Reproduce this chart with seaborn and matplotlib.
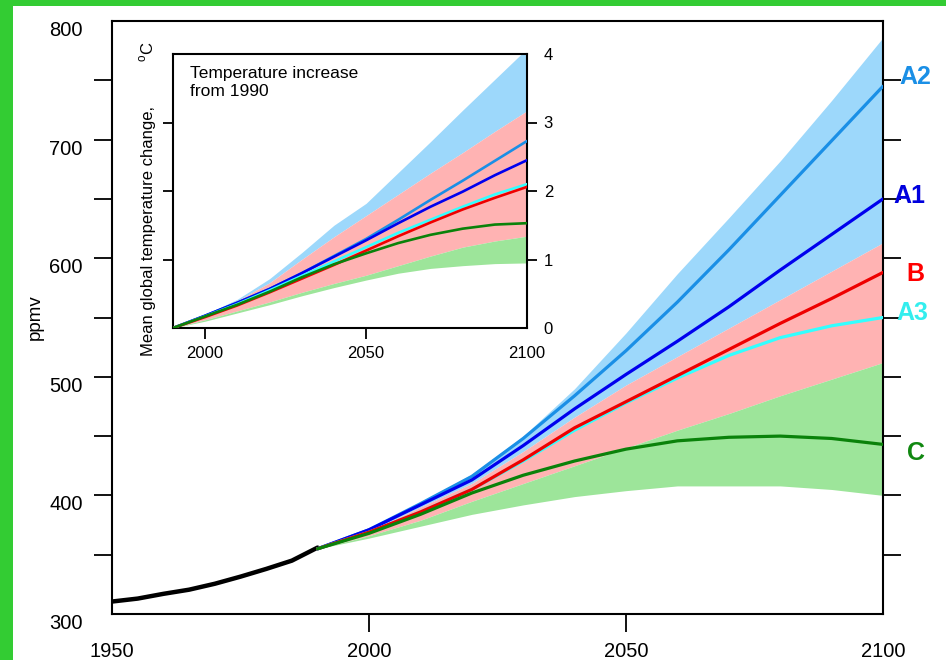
import matplotlib
matplotlib.use("Agg")
import matplotlib.pyplot as plt
import seaborn as sns
from matplotlib.patches import Rectangle

# ---- data -------------------------------------------------------------
hist_years = [1950, 1955, 1960, 1965, 1970, 1975, 1980, 1985, 1990]
hist_co2 = [310.5, 313, 317, 320.5, 325.5, 331.5, 338, 345, 356]

years = [1990, 2000, 2010, 2020, 2030, 2040, 2050, 2060, 2070, 2080, 2090, 2100]

# CO2 concentration projections (ppmv)
co2_a2 = [355, 371, 393, 416, 448, 484, 522, 563, 607, 653, 699, 745]
co2_a1 = [355, 371, 392, 413, 442, 473, 502, 530, 559, 590, 620, 650]
co2_b = [355, 369, 386, 405, 430, 457, 479, 501, 523, 545, 566, 588]
co2_a3 = [355, 369, 386, 405, 429, 455, 478, 499, 518, 533, 543, 550]
co2_c = [355, 368, 384, 402, 417, 429, 439, 446, 449, 450, 448, 443]

# CO2 uncertainty band edges
co2_blue_hi = [355, 373, 394, 418, 450, 490, 537, 587, 634, 682, 733, 786]
co2_pink_hi = [355, 370, 390, 410, 437, 466, 493, 517, 541, 565, 589, 613]
co2_green_hi = [355, 366, 379, 395, 410, 425, 440, 455, 469, 484, 498, 512]
co2_green_lo = [355, 364, 374, 384, 392, 399, 404, 408, 408, 408, 405, 400]

# Temperature increase from 1990 (deg C)
t_a2 = [0, 0.18, 0.37, 0.57, 0.80, 1.05, 1.30, 1.58, 1.87, 2.15, 2.44, 2.73]
t_a1 = [0, 0.18, 0.37, 0.57, 0.80, 1.04, 1.28, 1.53, 1.77, 1.99, 2.23, 2.45]
t_a3 = [0, 0.17, 0.35, 0.55, 0.76, 0.97, 1.18, 1.39, 1.58, 1.77, 1.95, 2.10]
t_b = [0, 0.16, 0.33, 0.52, 0.72, 0.92, 1.13, 1.34, 1.54, 1.73, 1.90, 2.06]
t_c = [0, 0.17, 0.34, 0.53, 0.74, 0.93, 1.09, 1.24, 1.36, 1.45, 1.51, 1.53]

t_blue_hi = [0, 0.20, 0.42, 0.72, 1.10, 1.50, 1.82, 2.27, 2.72, 3.18, 3.63, 4.08]
t_pink_hi = [0, 0.19, 0.40, 0.66, 1.00, 1.33, 1.64, 1.95, 2.26, 2.56, 2.87, 3.17]
t_green_hi = [0, 0.12, 0.25, 0.38, 0.52, 0.65, 0.77, 0.91, 1.05, 1.18, 1.27, 1.34]
t_green_lo = [0, 0.10, 0.22, 0.34, 0.47, 0.59, 0.70, 0.80, 0.87, 0.91, 0.94, 0.95]

scenarios = ["A2", "A1", "A3", "B", "C"]
x_ticks_main = [1950, 2000, 2050, 2100]
y_ticks_main = [300, 400, 500, 600, 700, 800]
x_ticks_inset = [2000, 2050, 2100]
y_ticks_inset = [0, 1, 2, 3, 4]

# ---- style -------------------------------------------------------------
sns.set_theme(style="white")
plt.rcParams["font.family"] = ["Liberation Sans", "DejaVu Sans"]
plt.rcParams["mathtext.fontset"] = "custom"
plt.rcParams["mathtext.rm"] = "Liberation Sans"
plt.rcParams["text.color"] = "black"
plt.rcParams["xtick.labelcolor"] = "black"
plt.rcParams["ytick.labelcolor"] = "black"

line_colors = {"A2": "#1a8fe6", "A1": "#0000ee", "A3": "#33ffff",
               "B": "#ee0000", "C": "#0a820a"}
label_colors = {"A2": "#1a8fe6", "A1": "#0000dd", "A3": "#33eeee",
                "B": "#ff0000", "C": "#118811"}
band_blue, band_pink, band_green = "#9dd8fb", "#ffb3b3", "#9de59a"

main_series = {"A2": co2_a2, "A1": co2_a1, "A3": co2_a3, "B": co2_b, "C": co2_c}
inset_series = {"A2": t_a2, "A1": t_a1, "A3": t_a3, "B": t_b, "C": t_c}

W, H = 946, 660
fig = plt.figure(figsize=(W / 100, H / 100), dpi=100)
fig.patch.set_facecolor("#33cc33")
fig.add_artist(Rectangle((13 / W, 0), 1, 1 - 6 / H, transform=fig.transFigure,
                         facecolor="white", edgecolor="none", zorder=-10))


def px_axes(l, t, r, b):
    return fig.add_axes([l / W, 1 - b / H, (r - l) / W, (b - t) / H])


# ---- main CO2 chart ----------------------------------------------------
ax = px_axes(112, 21, 883, 614)
ax.set_facecolor("white")
ax.fill_between(years, co2_pink_hi, co2_blue_hi, color=band_blue, lw=0, zorder=1)
ax.fill_between(years, co2_green_hi, co2_pink_hi, color=band_pink, lw=0, zorder=1)
ax.fill_between(years, co2_green_lo, co2_green_hi, color=band_green, lw=0, zorder=1)

sns.lineplot(x=hist_years, y=hist_co2, ax=ax, color="black", lw=3.2, zorder=3)
for name in scenarios:
    sns.lineplot(x=years, y=main_series[name], ax=ax, color=line_colors[name],
                 lw=2.3, zorder=3)

ax.set_xlim(1950, 2100)
ax.set_ylim(300, 800)
ax.set_xticks(x_ticks_main)
ax.set_yticks(y_ticks_main)
ax.set_yticks([v + 50 for v in y_ticks_main[:-1]], minor=True)
ax.set_xlabel("")
ax.set_ylabel("")
for s in ax.spines.values():
    s.set_color("black")
    s.set_linewidth(1.5)
    s.set_visible(True)
ax.tick_params(axis="x", which="major", bottom=True, direction="out",
               length=13, width=1.3, color="black", labelsize=14.5, pad=7)
ax.tick_params(axis="y", which="both", left=True, right=True, direction="out",
               length=13, width=1.3, color="black", labelsize=14.5, pad=8)
ax.tick_params(axis="y", which="both", right=True, labelright=False)
for tk in (ax.xaxis.get_major_ticks()[0], ax.xaxis.get_major_ticks()[-1]):
    tk.tick1line.set_visible(False)
for tk in (ax.yaxis.get_major_ticks()[0], ax.yaxis.get_major_ticks()[-1]):
    tk.tick1line.set_visible(False)
    tk.tick2line.set_visible(False)
for t in ax.get_yticklabels():
    t.set_verticalalignment("top")

# scenario labels at the right edge (offsets in pixels)
label_offsets = {"A2": (32, 9), "A1": (26, 3), "B": (32, -2), "A3": (29, 5), "C": (33, -9)}
for name in ["A2", "A1", "B", "A3", "C"]:
    ax.annotate(name, xy=(years[-1], main_series[name][-1]),
                xytext=label_offsets[name], textcoords="offset pixels",
                ha="center", va="center", fontsize=18, fontweight="bold",
                color=label_colors[name], annotation_clip=False)

fig.text(35 / W, 1 - 317 / H, "ppmv", rotation=90, ha="center", va="center",
         fontsize=13.5)

# ---- inset temperature chart -------------------------------------------
ax2 = px_axes(173, 54, 527, 328)
ax2.set_facecolor("white")
ax2.fill_between(years, t_pink_hi, t_blue_hi, color=band_blue, lw=0, zorder=1)
ax2.fill_between(years, t_green_hi, t_pink_hi, color=band_pink, lw=0, zorder=1)
ax2.fill_between(years, t_green_lo, t_green_hi, color=band_green, lw=0, zorder=1)
for name in scenarios:
    sns.lineplot(x=years, y=inset_series[name], ax=ax2, color=line_colors[name],
                 lw=1.9, zorder=3)

ax2.set_xlim(1990, 2100)
ax2.set_ylim(0, 4)
ax2.set_xticks(x_ticks_inset)
ax2.set_yticks(y_ticks_inset)
ax2.set_xlabel("")
ax2.set_ylabel("")
for s in ax2.spines.values():
    s.set_color("black")
    s.set_linewidth(1.5)
    s.set_visible(True)
ax2.tick_params(axis="x", bottom=True, direction="out", length=8, width=1.3,
                color="black", labelsize=12, pad=5)
ax2.tick_params(axis="y", left=True, right=True, labelleft=False, labelright=True,
                direction="out", length=7, width=1.3, color="black",
                labelsize=12, pad=5)
ax2.xaxis.get_major_ticks()[-1].tick1line.set_visible(False)
for tk in (ax2.yaxis.get_major_ticks()[0], ax2.yaxis.get_major_ticks()[-1]):
    tk.tick1line.set_visible(False)
    tk.tick2line.set_visible(False)

ax2.text(0.048, 0.955, "Temperature increase\nfrom 1990", transform=ax2.transAxes,
         ha="left", va="top", fontsize=12.5)

fig.text(148 / W, 1 - 231 / H, "Mean global temperature change,", rotation=90,
         ha="center", va="center", fontsize=12)
fig.text(147 / W, 1 - 52 / H, r"$^{\mathrm{o}}$C", rotation=90,
         ha="center", va="center", fontsize=12)

fig.savefig("out.png", dpi=100)
